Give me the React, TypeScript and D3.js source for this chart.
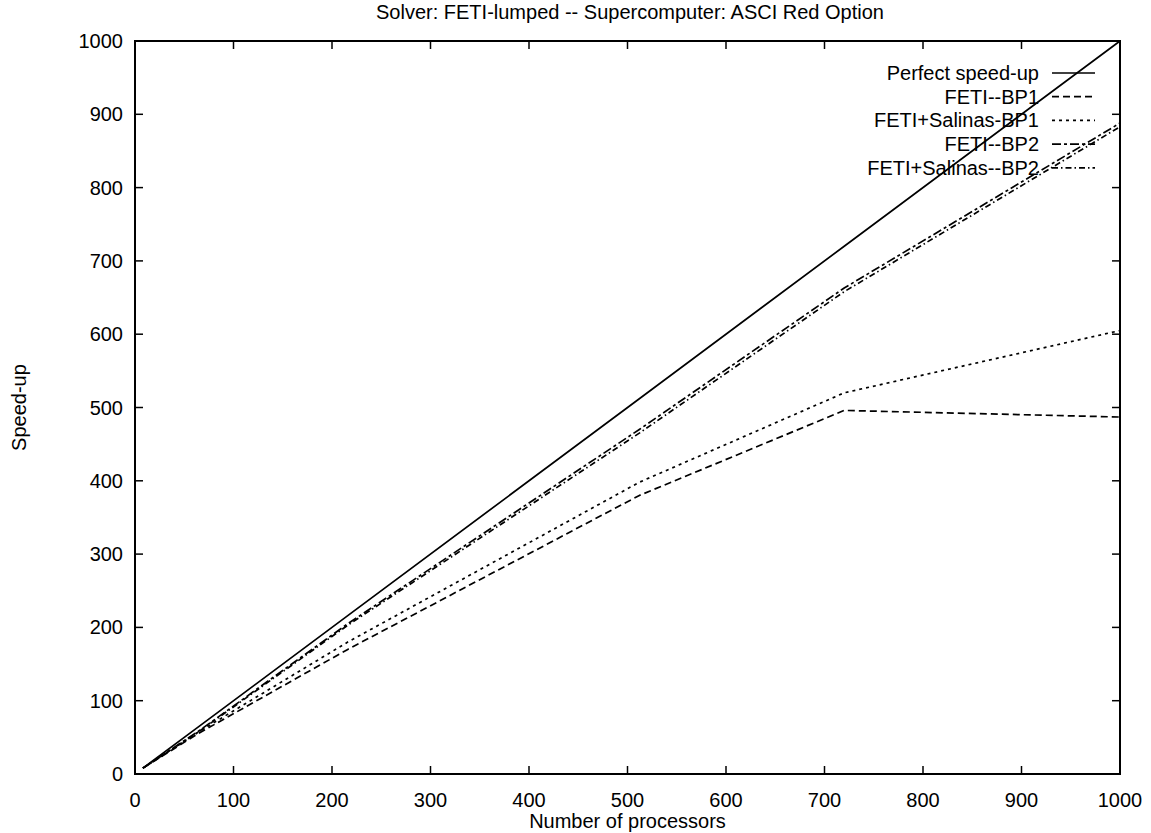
import React, { useRef, useEffect } from "react";
import * as d3 from "d3";

const width = 1151;
const height = 833;
const margin = { top: 41, right: 31, bottom: 59, left: 135 };

const procs = [8, 64, 216, 512, 720, 1000];
const perfect = [8, 64, 216, 512, 720, 1000];
const fetiBP1 = [8, 55, 170, 380, 496, 487];
const salinasBP1 = [8, 57, 180, 398, 520, 605];
const fetiBP2 = [8, 58, 205, 470, 663, 888];
const salinasBP2 = [8, 57, 203, 465, 658, 883];
const xTicks = [0, 100, 200, 300, 400, 500, 600, 700, 800, 900, 1000];
const yTicks = [0, 100, 200, 300, 400, 500, 600, 700, 800, 900, 1000];

const series = [
  { name: "Perfect speed-up", values: perfect, dash: null },
  { name: "FETI--BP1", values: fetiBP1, dash: "7,4" },
  { name: "FETI+Salinas-BP1", values: salinasBP1, dash: "3,4" },
  { name: "FETI--BP2", values: fetiBP2, dash: "9,3,3,3" },
  { name: "FETI+Salinas--BP2", values: salinasBP2, dash: "6,3,1.5,3" },
];

export default function App() {
  const svgRef = useRef<SVGSVGElement>(null);

  useEffect(() => {
    const svg = d3.select(svgRef.current);
    svg.selectAll("*").remove();
    const font = "Helvetica, Arial, 'Liberation Sans', sans-serif";
    const fs = 20;
    const x = d3.scaleLinear().domain([0, 1000]).range([margin.left, width - margin.right]);
    const y = d3.scaleLinear().domain([0, 1000]).range([height - margin.bottom, margin.top]);
    const x0 = x(0), x1 = x(1000), y0 = y(0), y1 = y(1000);

    // frame
    svg.append("rect")
      .attr("x", x0).attr("y", y1)
      .attr("width", x1 - x0).attr("height", y0 - y1)
      .attr("fill", "none").attr("stroke", "#000").attr("stroke-width", 2);

    const tl = 8;
    xTicks.forEach(t => {
      svg.append("line").attr("x1", x(t)).attr("x2", x(t)).attr("y1", y0).attr("y2", y0 - tl)
        .attr("stroke", "#000").attr("stroke-width", 1.5);
      svg.append("line").attr("x1", x(t)).attr("x2", x(t)).attr("y1", y1).attr("y2", y1 + tl)
        .attr("stroke", "#000").attr("stroke-width", 1.5);
      svg.append("text").attr("x", x(t)).attr("y", y0 + 33)
        .attr("text-anchor", "middle").attr("font-family", font).attr("font-size", fs)
        .text(t);
    });
    yTicks.forEach(t => {
      svg.append("line").attr("x1", x0).attr("x2", x0 + tl).attr("y1", y(t)).attr("y2", y(t))
        .attr("stroke", "#000").attr("stroke-width", 1.5);
      svg.append("line").attr("x1", x1).attr("x2", x1 - tl).attr("y1", y(t)).attr("y2", y(t))
        .attr("stroke", "#000").attr("stroke-width", 1.5);
      svg.append("text").attr("x", x0 - 12).attr("y", y(t)).attr("dy", "0.35em")
        .attr("text-anchor", "end").attr("font-family", font).attr("font-size", fs)
        .text(t);
    });

    const line = d3.line<number>()
      .x((_, i) => x(procs[i]))
      .y(d => y(d));

    series.forEach(s => {
      svg.append("path").attr("d", line(s.values))
        .attr("fill", "none").attr("stroke", "#000").attr("stroke-width", 1.7)
        .attr("stroke-dasharray", s.dash);
    });

    // legend
    series.forEach((s, i) => {
      const ly = 73 + i * 23.7;
      svg.append("text").attr("x", 1039).attr("y", ly).attr("dy", "0.35em")
        .attr("text-anchor", "end").attr("font-family", font).attr("font-size", fs)
        .text(s.name);
      svg.append("line").attr("x1", 1052).attr("x2", 1095).attr("y1", ly).attr("y2", ly)
        .attr("stroke", "#000").attr("stroke-width", 1.7).attr("stroke-dasharray", s.dash);
    });

    svg.append("text").attr("x", 630).attr("y", 19)
      .attr("text-anchor", "middle").attr("font-family", font).attr("font-size", fs)
      .text("Solver: FETI-lumped -- Supercomputer: ASCI Red Option");
    svg.append("text").attr("x", x(500)).attr("y", 828)
      .attr("text-anchor", "middle").attr("font-family", font).attr("font-size", fs)
      .text("Number of processors");
    svg.append("text")
      .attr("transform", `translate(26,${y(500)}) rotate(-90)`)
      .attr("text-anchor", "middle").attr("font-family", font).attr("font-size", fs)
      .text("Speed-up");
  }, []);

  return (
    <svg ref={svgRef} width={width} height={height}
      style={{ position: "absolute", left: 0, top: 0, background: "#fff" }} />
  );
}
